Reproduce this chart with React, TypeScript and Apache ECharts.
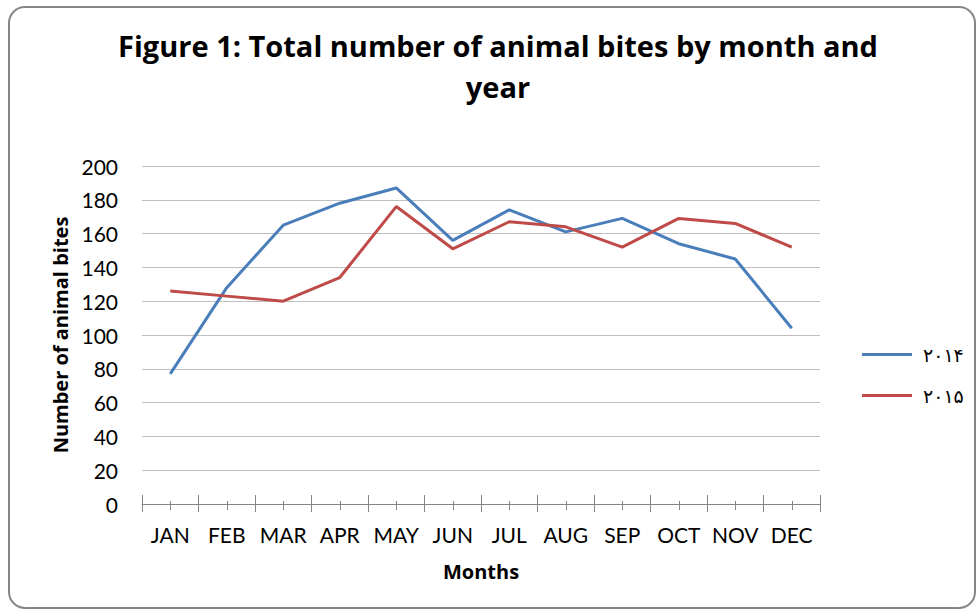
import React, { useEffect, useRef } from "react";
import * as echarts from "echarts";

const months = ["JAN", "FEB", "MAR", "APR", "MAY", "JUN", "JUL", "AUG", "SEP", "OCT", "NOV", "DEC"];
const bites2014 = [77, 128, 165, 178, 187, 156, 174, 161, 169, 154, 145, 104];
const bites2015 = [126, 123, 120, 134, 176, 151, 167, 164, 152, 169, 166, 152];
const seriesNames = ["۲۰۱۴", "۲۰۱۵"];
const titleText = "Figure 1: Total number of animal bites by month and\nyear";

const FONT = "Lato, 'Open Sans', sans-serif";
const BOLD_FONT = "'Open Sans', Lato, sans-serif";

export default function App() {
  const ref = useRef<HTMLDivElement>(null);
  useEffect(() => {
    if (!ref.current) return;
    const chart = echarts.init(ref.current, undefined, { renderer: "svg" });
    const axisColor = "#868686";
    const baseX = {
      type: "category" as const,
      data: months,
      position: "bottom" as const,
      boundaryGap: true,
      gridIndex: 0,
      axisLine: { show: false },
      axisLabel: { show: false, interval: 0 },
      splitLine: { show: false },
    };
    chart.setOption({
      animation: false,
      backgroundColor: "#ffffff",
      textStyle: { fontFamily: FONT },
      title: {
        text: titleText,
        left: 493,
        top: 20,
        textAlign: "center",
        textStyle: {
          fontFamily: BOLD_FONT,
          fontWeight: "bold",
          fontSize: 29,
          lineHeight: 41,
          color: "#000",
        },
      },
      graphic: [
        {
          type: "rect",
          shape: { x: 9, y: 7, width: 966, height: 601, r: 16 },
          style: { fill: "none", stroke: "#868686", lineWidth: 2 },
          silent: true,
          z: -1,
        },
      ],
      legend: {
        orient: "vertical",
        left: 857,
        top: 340,
        itemWidth: 50,
        itemHeight: 3,
        itemGap: 22,
        icon: "rect",
        textStyle: { fontFamily: "'DejaVu Sans', 'Noto Sans', sans-serif", fontSize: 19, color: "#000", padding: [0, 0, 0, 6] },
        data: seriesNames,
      },
      grid: { left: 142, right: 157, top: 166, bottom: 107, containLabel: false },
      xAxis: [
        {
          ...baseX,
          axisLine: { show: true, lineStyle: { color: axisColor, width: 1 } },
          axisTick: { show: true, interval: 0, inside: false, length: 8, lineStyle: { color: axisColor } },
          axisLabel: { show: true, interval: 0, margin: 20, fontFamily: FONT, fontSize: 21, color: "#000" },
          name: "Months",
          nameLocation: "middle",
          nameGap: 57,
          nameTextStyle: { fontFamily: BOLD_FONT, fontWeight: "bold", fontSize: 20, color: "#000" },
        },
        {
          ...baseX,
          axisTick: { show: true, interval: 0, inside: true, length: 9, lineStyle: { color: axisColor } },
        },
        {
          ...baseX,
          axisTick: { show: true, interval: 0, alignWithLabel: true, inside: false, length: 6, lineStyle: { color: axisColor } },
        },
        {
          ...baseX,
          axisTick: { show: true, interval: 0, alignWithLabel: true, inside: true, length: 3, lineStyle: { color: axisColor } },
        },
      ],
      yAxis: {
        type: "value",
        min: 0,
        max: 200,
        interval: 20,
        axisLine: { show: false },
        axisTick: { show: false },
        axisLabel: { margin: 24, fontFamily: FONT, fontSize: 21, color: "#000" },
        splitLine: { show: true, lineStyle: { color: "#bfbfbf", width: 1 } },
        name: "Number of animal bites",
        nameLocation: "middle",
        nameGap: 72,
        nameRotate: 90,
        nameTextStyle: { fontFamily: BOLD_FONT, fontWeight: "bold", fontSize: 20, color: "#000" },
      },
      series: [
        {
          name: seriesNames[0],
          type: "line",
          data: bites2014,
          xAxisIndex: 0,
          symbol: "none",
          lineStyle: { color: "#4a7ebb", width: 3 },
          itemStyle: { color: "#4a7ebb" },
        },
        {
          name: seriesNames[1],
          type: "line",
          data: bites2015,
          xAxisIndex: 0,
          symbol: "none",
          lineStyle: { color: "#be4b48", width: 3 },
          itemStyle: { color: "#be4b48" },
        },
      ],
    });
    return () => chart.dispose();
  }, []);
  return (
    <div
      ref={ref}
      style={{ position: "fixed", left: 0, top: 0, width: 977, height: 611 }}
    />
  );
}
